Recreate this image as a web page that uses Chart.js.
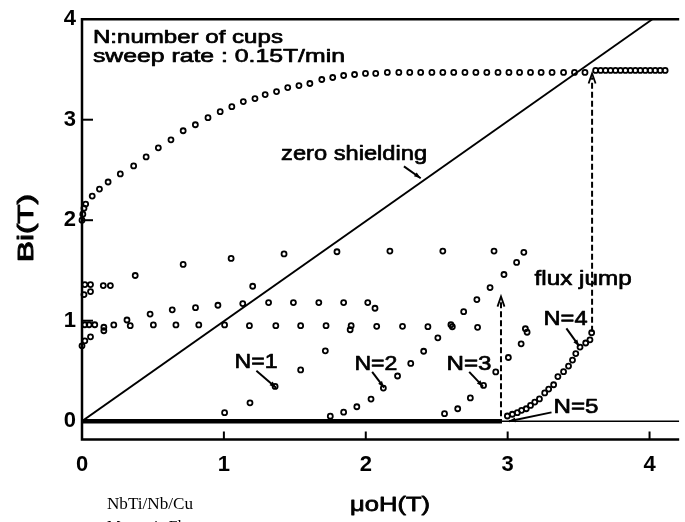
<!DOCTYPE html>
<html>
<head>
<meta charset="utf-8">
<title>Bi vs applied field</title>
<script src="https://cdn.jsdelivr.net/npm/chart.js@4.4.1/dist/chart.umd.min.js"></script>
<style>
  html, body { margin: 0; padding: 0; background: #fff; }
  canvas { display: block; }
</style>
</head>
<body>
<canvas id="chart" width="685" height="522"></canvas>
<script>
// axis ticks
const xTicks = [0, 1, 2, 3, 4];
const yTicks = [0, 1, 2, 3, 4];

// upper branch coming down from the plateau
const upperX = [0.0, 0.006, 0.014, 0.026, 0.072, 0.123, 0.184, 0.27, 0.364, 0.452, 0.538, 0.627, 0.713, 0.799, 0.888, 0.974,
  1.056, 1.137, 1.219, 1.291, 1.371, 1.45, 1.529, 1.606, 1.69, 1.767, 1.844, 1.921, 1.998, 2.07, 2.152, 2.233, 2.31, 2.387,
  2.466, 2.543, 2.62, 2.699, 2.776, 2.853, 2.932, 3.009, 3.084, 3.161, 3.236, 3.313, 3.394, 3.471, 3.545];
const upperY = [2.0, 2.06, 2.12, 2.16, 2.24, 2.31, 2.38, 2.46, 2.54, 2.63, 2.72, 2.8, 2.89, 2.95, 3.02, 3.08,
  3.13, 3.18, 3.21, 3.25, 3.28, 3.32, 3.34, 3.36, 3.4, 3.42, 3.44, 3.45, 3.46, 3.46, 3.47, 3.47, 3.47, 3.47,
  3.47, 3.47, 3.47, 3.47, 3.47, 3.47, 3.47, 3.47, 3.47, 3.47, 3.47, 3.47, 3.47, 3.47, 3.47];

// after the N=4 flux jump
const jumpX = [3.62, 3.655, 3.69, 3.725, 3.76, 3.795, 3.83, 3.865, 3.9, 3.935, 3.97, 4.005, 4.04, 4.075, 4.11];
const jumpY = [3.49, 3.49, 3.49, 3.49, 3.49, 3.49, 3.49, 3.49, 3.49, 3.49, 3.49, 3.49, 3.49, 3.49, 3.49];

// rows of points around 1.7, 1.2 and 1.0 T
const row17X = [0.375, 0.713, 1.051, 1.424, 1.797, 2.17, 2.543, 2.904];
const row17Y = [1.45, 1.56, 1.62, 1.664, 1.686, 1.693, 1.693, 1.693];
const row12X = [0.317, 0.48, 0.636, 0.8, 0.958, 1.133, 1.315, 1.49, 1.669, 1.844, 2.014, 2.065];
const row12Y = [1.007, 1.066, 1.108, 1.13, 1.154, 1.17, 1.18, 1.18, 1.18, 1.18, 1.18, 1.124];
const row10X = [0.154, 0.154, 0.224, 0.34, 0.503, 0.662, 0.823, 1.005, 1.18, 1.366, 1.541, 1.72, 1.897, 1.89, 2.077,
  2.259, 2.438, 2.61, 2.788];
const row10Y = [0.935, 0.9, 0.958, 0.951, 0.958, 0.958, 0.958, 0.958, 0.951, 0.951, 0.951, 0.951, 0.951, 0.91, 0.944,
  0.944, 0.941, 0.94, 0.934];

// points crowded against the field axis, plus a stray one
const edgeX = [0.0, 0.02, 0.06, 0.02, 0.05, 0.09, 0.014, 0.06, 0.02, 0.06, 0.15, 0.2, 1.203];
const edgeY = [0.75, 0.8, 0.84, 0.96, 0.96, 0.96, 1.26, 1.29, 1.36, 1.36, 1.35, 1.35, 1.343];

// flux penetration for each number of cups
const n1X = [1.005, 1.184, 1.361, 1.541, 1.715];
const n1Y = [0.085, 0.183, 0.346, 0.51, 0.7];
const n2X = [1.75, 1.844, 1.937, 2.037, 2.124, 2.224, 2.317, 2.408, 2.508, 2.6, 2.69, 2.783, 2.876, 2.974, 3.063, 3.114];
const n2Y = [0.05, 0.09, 0.144, 0.22, 0.33, 0.45, 0.575, 0.696, 0.83, 0.96, 1.09, 1.21, 1.33, 1.46, 1.58, 1.68];
const n3X = [2.555, 2.648, 2.737, 2.83, 2.916, 3.005, 3.095, 3.137, 3.125];
const n3Y = [0.075, 0.124, 0.232, 0.356, 0.49, 0.634, 0.77, 0.885, 0.92];
const n4X = [2.998, 3.033, 3.068, 3.098, 3.131, 3.161, 3.191, 3.224, 3.261, 3.289, 3.324, 3.354, 3.394, 3.429, 3.457,
  3.48, 3.51, 3.55, 3.58, 3.592];
const n4Y = [0.052, 0.069, 0.085, 0.108, 0.124, 0.157, 0.19, 0.222, 0.281, 0.32, 0.363, 0.444, 0.493, 0.549, 0.608,
  0.673, 0.738, 0.778, 0.81, 0.88];

// fully shielded stretch, N=5 trace and the zero shielding line
const shieldX = [0, 2.96];
const shieldY = [0, 0];
const n5X = [2.96, 4.21];
const n5Y = [0, 0];
const zeroX = [0, 4.02];
const zeroY = [0, 4];

// vertical flux jumps (field, from, to)
const jumps = [
  { x: 2.953, from: 0.05, to: 1.24 },
  { x: 3.595, from: 0.89, to: 3.46 }
];

const pts = (xs, ys) => xs.map((x, i) => ({ x, y: ys[i] }));

const dots = (xs, ys) => ({
  data: pts(xs, ys),
  showLine: false,
  pointRadius: 2.5,
  pointBorderWidth: 1.8,
  pointBorderColor: '#000',
  pointBackgroundColor: 'rgba(0,0,0,0)',
  clip: false
});

const line = (xs, ys, width) => ({
  data: pts(xs, ys),
  showLine: true,
  borderColor: '#000',
  borderWidth: width,
  pointRadius: 0
});

const FONT = '"Liberation Sans", Arial, sans-serif';

// labels inside the plot, placed in data units, stretched to the given width
const notes = [
  { text: 'N:number of cups', x: 0.077, y: 3.764, size: 19, width: 190 },
  { text: 'sweep rate : 0.15T/min', x: 0.077, y: 3.577, size: 19, width: 252 },
  { text: 'zero shielding', x: 1.403, y: 2.595, size: 21, width: 146 },
  { text: 'flux jump', x: 3.19, y: 1.356, size: 21, width: 97 },
  { text: 'N=1', x: 1.075, y: 0.531, size: 21, width: 43 },
  { text: 'N=2', x: 1.92, y: 0.511, size: 21, width: 43 },
  { text: 'N=3', x: 2.569, y: 0.511, size: 21, width: 45 },
  { text: 'N=4', x: 3.253, y: 0.953, size: 21, width: 44 },
  { text: 'N=5', x: 3.323, y: 0.079, size: 21, width: 45 }
];

// leader lines from the labels to the curves
const pointers = [
  { x1: 2.269, y1: 2.536, x2: 2.387, y2: 2.418 },
  { x1: 1.229, y1: 0.501, x2: 1.368, y2: 0.334 },
  { x1: 2.045, y1: 0.491, x2: 2.129, y2: 0.334 },
  { x1: 2.729, y1: 0.491, x2: 2.827, y2: 0.344 },
  { x1: 3.414, y1: 0.924, x2: 3.504, y2: 0.747 },
  { x1: 3.309, y1: 0.088, x2: 3.009, y2: 0.0 }
];

// text squeezed or stretched to a width; weight thickens the strokes a little
function fitText(ctx, text, x, y, font, size, width, weight) {
  ctx.font = size + 'px ' + font;
  const w = ctx.measureText(text).width;
  ctx.save();
  ctx.translate(x, y);
  ctx.scale(width / w, 1);
  ctx.fillText(text, 0, 0);
  if (weight) {
    ctx.lineWidth = weight;
    ctx.lineJoin = 'round';
    ctx.strokeText(text, 0, 0);
  }
  ctx.restore();
}

function seg(ctx, x1, y1, x2, y2) {
  ctx.beginPath();
  ctx.moveTo(x1, y1);
  ctx.lineTo(x2, y2);
  ctx.stroke();
}

const decorations = {
  id: 'decorations',
  afterDatasetsDraw(chart) {
    const { ctx, chartArea: a } = chart;
    const xs = chart.scales.x, ys = chart.scales.y;
    ctx.save();
    ctx.strokeStyle = '#000';
    ctx.fillStyle = '#000';
    ctx.lineCap = 'butt';

    // frame: top, left and bottom
    ctx.lineWidth = 2.5;
    ctx.beginPath();
    ctx.moveTo(a.right, a.top);
    ctx.lineTo(a.left, a.top);
    ctx.lineTo(a.left, a.bottom);
    ctx.lineTo(a.right, a.bottom);
    ctx.stroke();

    // inward tick marks
    ctx.lineWidth = 2;
    yTicks.forEach(v => {
      if (v <= 0 || v >= 4) return;
      const py = ys.getPixelForValue(v);
      seg(ctx, a.left, py, a.left + 11, py);
    });
    xTicks.forEach(v => {
      if (v === 0) return;
      const px = xs.getPixelForValue(v);
      seg(ctx, px, a.bottom, px, a.bottom - 8);
    });

    // dashed flux jump arrows
    jumps.forEach(j => {
      const px = xs.getPixelForValue(j.x);
      const top = ys.getPixelForValue(j.to);
      ctx.lineWidth = 2;
      ctx.setLineDash([6, 3]);
      seg(ctx, px, ys.getPixelForValue(j.from), px, top + 4);
      ctx.setLineDash([]);
      ctx.lineWidth = 1.8;
      ctx.beginPath();
      ctx.moveTo(px - 3.5, top + 10);
      ctx.lineTo(px, top);
      ctx.lineTo(px + 3.5, top + 10);
      ctx.stroke();
    });

    // leader lines with small arrow heads
    pointers.forEach(p => {
      const x1 = xs.getPixelForValue(p.x1), y1 = ys.getPixelForValue(p.y1);
      const x2 = xs.getPixelForValue(p.x2), y2 = ys.getPixelForValue(p.y2);
      ctx.lineWidth = 2;
      seg(ctx, x1, y1, x2, y2);
      const ang = Math.atan2(y2 - y1, x2 - x1);
      ctx.beginPath();
      ctx.moveTo(x2, y2);
      ctx.lineTo(x2 - 7 * Math.cos(ang - 0.35), y2 - 7 * Math.sin(ang - 0.35));
      ctx.lineTo(x2 - 7 * Math.cos(ang + 0.35), y2 - 7 * Math.sin(ang + 0.35));
      ctx.closePath();
      ctx.fill();
    });

    // labels
    ctx.textAlign = 'left';
    ctx.textBaseline = 'alphabetic';
    notes.forEach(n => {
      fitText(ctx, n.text, xs.getPixelForValue(n.x), ys.getPixelForValue(n.y), FONT, n.size, n.width, 0.7);
    });

    // axis titles
    ctx.textAlign = 'center';
    ctx.textBaseline = 'middle';
    ctx.save();
    ctx.translate(27, 228);
    ctx.rotate(-Math.PI / 2);
    fitText(ctx, 'Bi(T)', 0, 0, FONT, 22, 68, 1);
    ctx.restore();
    fitText(ctx, 'μoH(T)', 390, 505, FONT, 21, 80, 0.8);

    // caption below the plot
    ctx.textAlign = 'left';
    ctx.textBaseline = 'alphabetic';
    const serif = '"Liberation Serif", "Times New Roman", serif';
    fitText(ctx, 'NbTi/Nb/Cu', 107, 509, serif, 16, 86);
    fitText(ctx, 'Magnetic Flux', 107, 532, serif, 16, 90);

    ctx.restore();
  }
};

new Chart(document.getElementById('chart').getContext('2d'), {
  type: 'scatter',
  data: {
    datasets: [
      line(zeroX, zeroY, 1.8),
      line(shieldX, shieldY, 4.5),
      line(n5X, n5Y, 1.6),
      dots(upperX, upperY),
      dots(jumpX, jumpY),
      dots(row17X, row17Y),
      dots(row12X, row12Y),
      dots(row10X, row10Y),
      dots(edgeX, edgeY),
      dots(n1X, n1Y),
      dots(n2X, n2Y),
      dots(n3X, n3Y),
      dots(n4X, n4Y)
    ]
  },
  options: {
    responsive: false,
    animation: false,
    devicePixelRatio: 1,
    events: [],
    layout: { padding: { top: 14, left: 0, right: 0, bottom: 0 } },
    plugins: { legend: { display: false }, tooltip: { enabled: false } },
    scales: {
      x: {
        type: 'linear',
        min: 0,
        max: 4.209,
        afterBuildTicks: s => { s.ticks = xTicks.map(v => ({ value: v })); },
        afterFit: s => { s.height = 82.5; },
        grid: { display: false, drawTicks: false },
        border: { display: false },
        ticks: { color: '#000', padding: 12, maxRotation: 0, font: { family: FONT, size: 22, weight: 'bold' } }
      },
      y: {
        type: 'linear',
        min: -0.182,
        max: 4,
        afterBuildTicks: s => { s.ticks = yTicks.map(v => ({ value: v })); },
        afterFit: s => { s.width = 82; },
        grid: { display: false, drawTicks: false },
        border: { display: false },
        ticks: { color: '#000', padding: 6, font: { family: FONT, size: 22, weight: 'bold' } }
      }
    }
  },
  plugins: [decorations]
});
</script>
</body>
</html>
